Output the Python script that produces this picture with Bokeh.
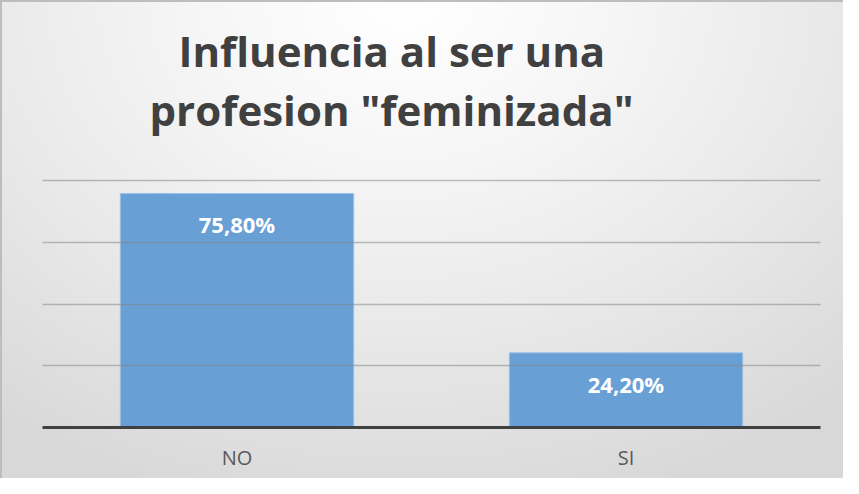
from bokeh.plotting import figure
from bokeh.models import ColumnDataSource, LabelSet, Title, FixedTicker
from bokeh.core.properties import value
from bokeh.embed import file_html
from bokeh.resources import INLINE

categories = ["NO", "SI"]
values = [75.8, 24.2]
value_labels = ["75,80%", "24,20%"]
y_ticks = [0, 20, 40, 60, 80]
title_lines = ["Influencia  al ser una", 'profesion "feminizada"']

W, H = 843, 478
p = figure(x_range=categories, y_range=(0, 80.65), width=W, height=H,
           output_backend="svg", toolbar_location=None, y_axis_location=None,
           min_border_left=42, min_border_right=23, min_border_top=178,
           min_border_bottom=51)

p.background_fill_alpha = 0
p.border_fill_alpha = 0
p.outline_line_color = None
p.styles = {
    "background": "radial-gradient(ellipse 80% 110% at 48% 0%, #ffffff 0%, #f6f6f6 30%, #e8e8e8 65%, #d8d8d8 100%)",
    "box-shadow": "inset 2px 2px 0 #bdbdbd",
}

src = ColumnDataSource(dict(cat=categories, val=values, lab=value_labels))
p.vbar(x="cat", top="val", width=0.6, source=src, fill_color="#68A0D6",
       line_color="#9cc3e6", line_width=1)

p.xgrid.grid_line_color = None
p.ygrid.ticker = FixedTicker(ticks=y_ticks)
p.ygrid.grid_line_color = "#7f7f7f"
p.ygrid.grid_line_alpha = 0.5
p.ygrid.grid_line_width = 1.5
p.ygrid.level = "overlay"

ax = p.xaxis[0]
ax.axis_line_color = "#404040"
ax.axis_line_width = 3
ax.major_tick_line_color = None
ax.minor_tick_line_color = None
ax.major_label_text_font = "Open Sans"
ax.major_label_text_font_size = "20px"
ax.major_label_text_color = "#595959"
ax.major_label_standoff = 10

labels = LabelSet(x="cat", y="val", text="lab", source=src, y_offset=-31,
                  text_align="center", text_baseline="middle",
                  text_font=value("Open Sans"), text_font_style="bold",
                  text_font_size="22px", text_color="white")
p.add_layout(labels)

# spacer between the frame and the two title lines
p.add_layout(Title(text=" ", standoff=38, text_font_size="1px"), "above")
# titles added nearest-to-frame first
for txt, off in [(title_lines[1], 107), (title_lines[0], 136)]:
    p.add_layout(Title(text=txt, align="left", offset=off, standoff=0,
                       text_line_height=0.8,
                       text_font="Open Sans", text_font_style="bold",
                       text_font_size="42px", text_color="#404040"), "above")

open("out.html", "w").write(file_html(p, INLINE))
